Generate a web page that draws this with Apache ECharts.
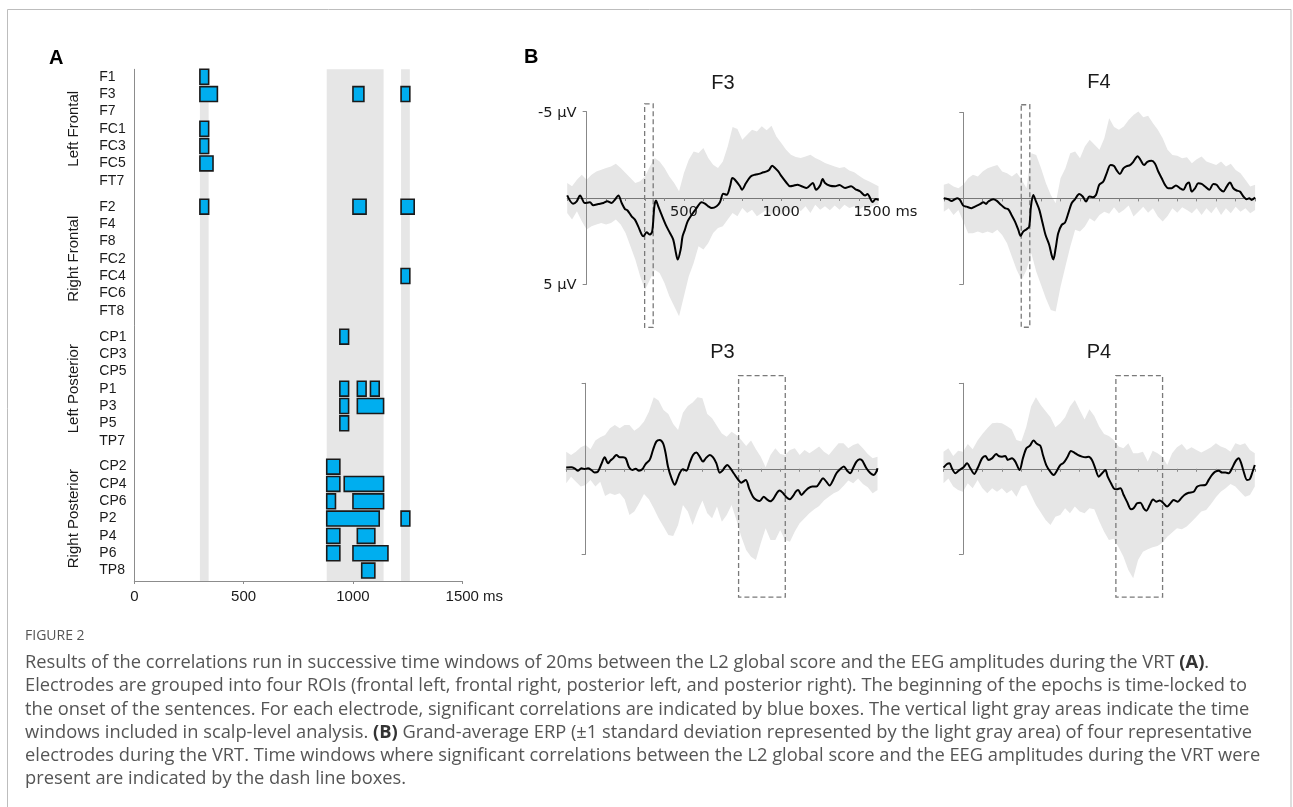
<!DOCTYPE html>
<html><head><meta charset="utf-8">
<script src="https://cdn.jsdelivr.net/npm/echarts@6/dist/echarts.min.js"></script>
<style>html,body{margin:0;padding:0;background:#fff}#c{width:1293px;height:807px}</style>
</head><body><div id="c"></div><script>
// ---------- Panel A data ----------
const electrodes = ['F1','F3','F7','FC1','FC3','FC5','FT7','F2','F4','F8','FC2','FC4','FC6','FT8','CP1','CP3','CP5','P1','P3','P5','TP7','CP2','CP4','CP6','P2','P4','P6','TP8'];
const groups = ['Left Frontal','Right Frontal','Left Posterior','Right Posterior'];
const analysisWindows = [[300,340],[880,1140],[1220,1260]];
const sigBoxes = [
 ['F1',300,340],['F3',300,380],['F3',1000,1050],['F3',1220,1260],
 ['FC1',300,340],['FC3',300,340],['FC5',300,360],
 ['F2',300,340],['F2',1000,1060],['F2',1220,1280],
 ['FC4',1220,1260],
 ['CP1',940,980],
 ['P1',940,980],['P1',1020,1060],['P1',1080,1120],
 ['P3',940,980],['P3',1020,1140],
 ['P5',940,980],
 ['CP2',880,940],
 ['CP4',880,940],['CP4',960,1140],
 ['CP6',880,920],['CP6',1000,1140],
 ['P2',880,1120],['P2',1220,1260],
 ['P4',880,940],['P4',1020,1100],
 ['P6',880,940],['P6',1000,1160],
 ['TP8',1040,1100]
];
const xTicksA = [0,500,1000,1500];

// ---------- Panel B data (µV, negative up) ----------
const bandTimes = [-100,-75,-50,-25,0,25,50,75,100,125,150,175,200,225,250,275,300,325,350,375,400,425,450,475,500,525,550,575,600,625,650,675,700,725,750,775,800,825,850,875,900,925,950,975,1000,1025,1050,1075,1100,1125,1150,1175,1200,1225,1250,1275,1300,1325,1350,1375,1400,1425,1450,1475,1500];

const f3Mean = [[-100,-0.15],[-70,0.33],[-51,0.19],[-34,-0.15],[-9,0.29],[17,0.25],[34,0.42],[60,0.35],[86,0.29],[106,0.19],[128,0.29],[145,0.10],[163,-0.15],[180,0.29],[197,0.64],[209,0.71],[231,1.06],[248,1.25],[265,1.64],[283,2.12],[291,2.22],[308,1.99],[325,2.12],[337,1.93],[348,0.48],[356,0.15],[368,0.48],[385,0.97],[406,1.54],[428,2.03],[445,2.41],[459,3.19],[468,3.57],[483,2.99],[493,2.22],[505,1.83],[519,1.35],[540,0.97],[565,0.58],[591,0.25],[608,0.33],[625,0.48],[643,0.58],[668,0.48],[685,0.25],[702,-0.25],[720,-0.19],[737,-0.68],[749,-1.16],[762,-1.06],[788,-0.68],[798,-0.48],[819,-0.87],[843,-1.25],[865,-1.35],[891,-1.41],[908,-1.49],[925,-1.54],[939,-1.64],[953,-1.87],[968,-1.74],[985,-1.54],[1002,-1.25],[1028,-0.87],[1045,-0.68],[1062,-0.71],[1083,-0.77],[1105,-0.68],[1131,-0.58],[1162,-0.87],[1179,-0.48],[1200,-0.73],[1213,-1.10],[1225,-0.87],[1251,-0.71],[1277,-0.68],[1299,-0.75],[1328,-0.58],[1359,-0.68],[1380,-0.52],[1405,-0.39],[1431,-0.14],[1443,-0.23],[1470,0.23],[1486,0.06],[1500,0.10]];
const f3Upper = [-0.87,-0.68,-1.06,-1.35,-1.06,-1.35,-1.54,-1.64,-1.74,-1.83,-1.99,-1.74,-1.45,-1.16,-0.87,-0.97,-1.25,-1.83,-2.32,-2.12,-1.74,-1.25,-0.87,-0.39,-1.45,-2.22,-2.70,-2.61,-2.90,-2.32,-1.93,-1.74,-2.12,-2.99,-4.11,-4.00,-3.38,-3.67,-3.96,-3.86,-4.15,-3.92,-4.19,-3.57,-3.19,-2.80,-2.51,-2.37,-2.32,-2.41,-2.51,-2.32,-2.18,-2.03,-1.93,-1.83,-1.74,-1.80,-1.60,-1.49,-1.29,-1.10,-0.97,-0.83,-0.68];
const f3Lower = [0.87,1.25,0.77,1.35,1.83,1.64,1.54,1.45,1.54,1.45,1.25,1.54,2.03,2.80,3.57,4.54,5.31,4.73,4.15,4.34,4.92,5.69,6.27,6.85,5.69,4.54,3.76,2.80,2.99,2.61,2.03,1.74,1.64,1.25,0.87,1.06,0.58,0.87,0.68,1.06,0.87,0.68,0.97,0.68,0.97,0.68,0.87,0.48,0.77,0.48,0.87,0.39,0.68,0.48,0.71,0.44,0.68,0.39,0.58,0.48,0.68,0.48,0.58,0.44,0.39];

const f4Mean = [[-100,-0.01],[-77,0.05],[-60,0.15],[-43,0.05],[-31,-0.01],[-17,0.09],[0,0.42],[17,0.48],[43,0.57],[60,0.48],[86,0.34],[103,0.22],[117,0.32],[129,0.18],[154,0.05],[171,0.13],[189,0.32],[214,0.57],[231,0.63],[248,0.96],[266,1.35],[283,1.83],[295,2.18],[308,1.93],[326,1.79],[339,1.64],[348,0.47],[360,-0.20],[374,0.18],[391,0.67],[408,1.45],[423,2.13],[442,2.71],[454,3.29],[463,3.55],[475,2.90],[488,2.03],[506,1.54],[523,1.41],[540,0.86],[557,0.28],[574,0.05],[596,-0.26],[614,-0.11],[631,0.18],[648,-0.11],[665,-0.07],[682,-0.20],[699,-0.79],[720,-0.98],[737,-1.46],[757,-1.94],[775,-1.88],[788,-1.65],[805,-1.42],[823,-1.75],[840,-1.88],[857,-1.94],[874,-2.13],[896,-2.46],[912,-2.22],[929,-1.94],[946,-2.13],[968,-2.19],[985,-2.03],[1003,-1.55],[1020,-1.17],[1037,-0.79],[1054,-0.59],[1071,-0.59],[1093,-0.75],[1114,-0.59],[1131,-0.50],[1148,-0.83],[1160,-0.92],[1174,-0.40],[1191,-0.59],[1208,-0.88],[1225,-0.84],[1243,-0.69],[1265,-0.50],[1285,-0.84],[1302,-0.79],[1320,-0.53],[1337,-0.40],[1354,-0.69],[1371,-0.92],[1388,-0.59],[1405,-0.46],[1422,-0.40],[1440,-0.11],[1457,0.05],[1470,-0.01],[1482,0.09],[1500,-0.05]];
const f4Upper = [-0.79,-0.88,-0.69,-0.59,-0.79,-1.17,-1.37,-1.27,-1.56,-1.76,-1.85,-1.95,-1.56,-1.47,-1.27,-1.50,-1.08,-0.59,-2.63,-2.53,-1.76,-0.88,-0.20,0.28,-1.17,-1.76,-2.63,-2.73,-2.34,-3.02,-3.41,-3.12,-2.83,-3.50,-4.67,-4.15,-3.99,-4.19,-4.57,-4.86,-5.06,-4.73,-4.81,-4.38,-3.99,-3.50,-2.83,-2.53,-2.48,-2.34,-2.40,-2.05,-2.28,-2.44,-2.15,-2.05,-1.95,-2.15,-1.85,-2.01,-1.66,-1.47,-1.08,-0.69,-0.79];
const f4Lower = [0.77,0.57,0.96,0.67,1.35,2.03,2.03,1.93,2.03,1.93,2.03,1.83,2.13,2.61,3.39,4.17,4.75,4.17,3.19,4.26,5.04,5.82,6.50,6.59,5.14,3.97,2.81,1.83,1.93,1.64,1.16,1.35,0.96,0.77,0.90,0.51,0.86,0.67,0.42,1.06,0.77,0.48,0.83,0.57,1.06,1.35,1.02,0.57,0.83,0.51,0.67,0.86,0.57,0.96,0.57,0.86,0.48,0.96,0.57,0.86,0.48,0.77,0.57,0.86,0.67];

const p3Mean = [[-100,-0.07],[-74,-0.09],[-57,-0.03],[-39,0.11],[-22,-0.03],[-5,0.01],[12,-0.03],[29,0.07],[46,0.22],[63,0.17],[81,-0.28],[98,-0.67],[115,-0.32],[127,-0.48],[141,-0.61],[158,-0.81],[175,-0.67],[192,-0.67],[206,-0.61],[223,-0.09],[240,0.07],[257,-0.01],[274,0.11],[291,0.03],[308,-0.28],[329,-0.52],[346,-1.10],[363,-1.59],[380,-1.69],[398,-1.49],[411,-0.91],[423,-0.13],[441,0.55],[458,0.94],[470,0.65],[483,0.26],[500,0.03],[518,0.11],[535,-0.36],[552,-0.81],[569,-0.95],[586,-0.71],[603,-0.42],[617,-0.61],[638,-0.81],[655,-0.67],[672,-0.32],[689,0.23],[703,0.11],[715,-0.09],[728,-0.22],[744,-0.03],[761,0.26],[778,0.55],[800,0.81],[823,0.65],[840,1.14],[860,1.63],[877,1.82],[895,1.88],[915,1.63],[932,1.79],[949,1.90],[967,1.72],[984,1.39],[997,1.27],[1015,1.43],[1032,1.66],[1049,1.78],[1066,1.59],[1080,1.33],[1092,1.24],[1109,1.53],[1126,1.33],[1143,1.14],[1165,1.04],[1186,1.04],[1203,0.81],[1220,0.55],[1237,0.75],[1254,0.98],[1272,0.65],[1289,0.26],[1309,0.01],[1327,-0.13],[1344,0.11],[1361,0.26],[1374,-0.03],[1392,-0.42],[1409,-0.56],[1422,-0.48],[1443,-0.03],[1464,0.26],[1481,0.36],[1494,0.17],[1500,-0.03]];
const p3Upper = [-1.00,-0.81,-1.00,-1.26,-1.39,-1.14,-1.65,-1.84,-1.98,-2.37,-2.56,-2.37,-2.56,-2.56,-2.23,-2.43,-2.76,-3.34,-4.18,-3.99,-3.44,-3.21,-2.62,-2.27,-3.28,-3.67,-3.87,-4.18,-4.12,-3.21,-2.95,-2.50,-2.07,-1.88,-2.17,-1.98,-1.69,-1.34,-1.65,-1.14,-0.71,-0.09,-0.81,-1.20,-0.87,-0.81,-1.10,-1.20,-0.81,-1.10,-0.91,-1.10,-1.30,-1.00,-0.81,-1.16,-1.49,-1.49,-1.20,-1.39,-1.49,-1.20,-0.87,-0.61,-0.71];
const p3Lower = [0.85,0.46,0.75,1.04,0.95,0.65,1.04,0.75,1.59,1.43,1.53,1.43,1.78,2.70,2.50,2.02,1.47,1.78,2.31,2.89,3.38,3.87,3.93,3.28,2.12,2.50,3.28,2.50,1.86,2.60,2.89,2.21,3.09,2.70,2.12,2.99,3.97,4.75,5.14,5.33,4.36,3.48,4.16,4.16,3.58,4.16,4.26,3.67,3.19,2.89,2.60,2.37,2.17,1.86,1.63,1.43,1.30,1.00,0.69,0.85,0.56,0.89,1.08,1.43,1.24];

const p4Mean = [[-100,-0.07],[-82,-0.28],[-69,-0.32],[-57,-0.03],[-39,0.26],[-22,0.11],[3,-0.09],[21,-0.32],[38,-0.03],[58,0.30],[75,-0.03],[98,-0.61],[115,-0.75],[132,-0.52],[149,-0.61],[171,-0.87],[183,-0.75],[201,-0.71],[218,-0.75],[230,-0.52],[252,-0.61],[269,-0.42],[291,0.07],[308,-0.61],[326,-1.20],[343,-1.34],[363,-1.65],[380,-1.46],[398,-1.34],[411,-0.81],[428,-0.22],[449,0.17],[466,0.36],[483,0.11],[500,-0.22],[518,-0.36],[538,-0.71],[555,-1.04],[572,-0.95],[590,-0.81],[612,-0.71],[629,-0.67],[646,-0.71],[663,-0.52],[680,-0.03],[698,0.46],[715,0.26],[732,0.07],[744,0.46],[761,0.85],[775,1.14],[788,1.20],[809,1.14],[826,1.53],[843,1.92],[864,2.37],[877,2.31],[895,2.02],[912,1.98],[929,2.31],[943,2.45],[960,2.12],[977,1.79],[994,1.92],[1011,1.86],[1028,1.98],[1049,2.21],[1066,2.02],[1083,1.83],[1104,1.92],[1121,1.73],[1138,1.53],[1160,1.40],[1186,1.34],[1203,1.05],[1220,0.97],[1246,0.95],[1263,0.65],[1280,0.36],[1297,0.17],[1315,0.11],[1332,0.22],[1349,0.22],[1366,0.26],[1383,-0.03],[1400,-0.42],[1417,-0.61],[1429,-0.36],[1443,0.17],[1460,0.65],[1474,0.61],[1486,0.26],[1500,-0.22]];
const p4Upper = [-1.00,-1.20,-0.75,-1.06,-1.00,-1.45,-1.14,-1.65,-2.04,-2.37,-2.66,-2.70,-2.66,-2.50,-2.31,-1.69,-1.59,-2.43,-3.64,-4.18,-3.73,-3.36,-3.01,-2.43,-2.66,-3.01,-3.64,-4.03,-3.44,-2.89,-3.48,-3.09,-2.47,-2.04,-1.92,-1.69,-1.30,-1.20,-1.49,-0.91,-0.91,-1.00,-0.42,-1.06,-0.91,-0.71,-0.22,-0.91,-1.26,-1.45,-1.10,-1.26,-1.10,-0.95,-1.10,-1.26,-1.49,-1.30,-1.20,-1.00,-1.49,-1.39,-1.49,-1.10,-0.91];
const p4Lower = [0.85,0.56,1.04,1.24,1.34,0.85,1.14,0.65,1.14,1.43,1.14,1.34,1.14,1.43,1.24,1.63,1.04,0.95,1.53,2.12,2.56,2.99,3.28,2.80,2.70,2.31,2.60,2.21,2.50,2.60,2.31,2.37,3.05,3.67,4.16,4.09,4.59,5.14,5.92,6.40,5.33,4.85,4.71,4.59,4.51,4.32,3.97,3.73,3.48,3.54,3.38,3.09,2.80,2.50,2.41,2.06,1.67,1.34,1.14,0.89,1.04,1.34,1.63,1.53,1.04];

const sigWindowF = [298, 342];     // ms, dashed box (frontal)
const sigWindowP = [786, 1026];    // ms, dashed box (posterior)
const boxRangeUV = [-5.45, 7.5];   // µV extent of dashed boxes
const erpTicks = [500, 1000, 1500];
const uvTicks = [-5, 5];

// ---------- layout ----------
const plots = [
 {name:'F3', mean:f3Mean, upper:f3Upper, lower:f3Lower, win:sigWindowF, labels:true,  grid:{left:567.2, top:111.7, width:311.3, height:172.6}, title:[723, 83.5]},
 {name:'F4', mean:f4Mean, upper:f4Upper, lower:f4Lower, win:sigWindowF, labels:false, grid:{left:943.8, top:112.5, width:311.3, height:171.8}, title:[1099, 82]},
 {name:'P3', mean:p3Mean, upper:p3Upper, lower:p3Lower, win:sigWindowP, labels:false, grid:{left:566.2, top:383.3, width:311.3, height:171}, title:[722.5, 352]},
 {name:'P4', mean:p4Mean, upper:p4Upper, lower:p4Lower, win:sigWindowP, labels:false, grid:{left:943.5, top:383.3, width:311.3, height:171}, title:[1099, 352]}
];

const rowPos = name => { const i = electrodes.indexOf(name); return i + 0.5 * Math.floor(i / 7); };
const rowPositions = electrodes.map(rowPos);
const groupCenters = groups.map((g, k) => k * 7.5 + 3);
const BLUE = '#00aeef', AXIS = '#8c8c8c', SANS = 'Liberation Sans, Arial, sans-serif', DEJA = '"DejaVu Sans", sans-serif';

const chart = echarts.init(document.getElementById('c'));

const xAxes = [{
  gridIndex:0, type:'value', min:0, max:1500, interval:500,
  axisLine:{onZero:false, lineStyle:{color:AXIS, width:1}},
  axisTick:{show:true, length:3, lineStyle:{color:AXIS}},
  splitLine:{show:false},
  axisLabel:{customValues:xTicksA, margin:8, fontSize:15, fontFamily:SANS, color:'#1a1a1a',
    formatter: v => v === 1500 ? '{pad|\u00a0}1500 ms' : String(v), rich:{pad:{width:24}}}
}];
const yAxes = [{
  gridIndex:0, type:'value', inverse:true, min:-0.43, max:29.1,
  axisLine:{show:true, onZero:false, lineStyle:{color:AXIS, width:1}},
  axisTick:{show:false}, splitLine:{show:false},
  axisLabel:{customValues:rowPositions, align:'left', margin:35, fontSize:14, fontFamily:SANS, color:'#1a1a1a',
    formatter: v => { const k = rowPositions.findIndex(p => Math.abs(p - v) < 0.01); return k >= 0 ? electrodes[k] : ''; }}
}];
const series = [
  {type:'custom', xAxisIndex:0, yAxisIndex:0, z:1, silent:true, data:analysisWindows, encode:{x:[0,1]},
   renderItem:(params, api) => {
     const x0 = api.coord([api.value(0), 0])[0], x1 = api.coord([api.value(1), 0])[0];
     const cs = params.coordSys;
     return {type:'rect', shape:{x:x0, y:cs.y, width:x1 - x0, height:cs.height}, style:{fill:'#e6e6e6'}};
   }},
  {type:'custom', xAxisIndex:0, yAxisIndex:0, z:3, silent:true,
   data: sigBoxes.map(b => [b[1], b[2], rowPos(b[0])]), encode:{x:[0,1], y:2},
   renderItem:(params, api) => {
     const a = api.coord([api.value(0), api.value(2)]);
     const b = api.coord([api.value(1), api.value(2)]);
     const h = api.size([0, 0.86])[1];
     return {type:'rect', shape:{x:a[0], y:a[1] - h / 2, width:b[0] - a[0], height:h},
       style:{fill:BLUE, stroke:'#1a1a1a', lineWidth:1.6}};
   }}
];

plots.forEach((p, k) => {
  const gi = k + 1;
  xAxes.push({
    gridIndex:gi, type:'value', min:-100, max:1500, interval:100, z:3,
    axisLine:{onZero:true, lineStyle:{color:'#777', width:1}},
    axisTick:{show:true, length:3, lineStyle:{color:'#888'}},
    splitLine:{show:false}, axisLabel:{show:false}
  });
  yAxes.push({
    gridIndex:gi, type:'value', inverse:true, min:-5, max:5, z:3,
    axisLine:{show:true, onZero:true, lineStyle:{color:'#888', width:1}},
    axisTick:{show:true, customValues:uvTicks, length:4, lineStyle:{color:'#888'}},
    splitLine:{show:false}, axisLabel:{show:false}
  });
  series.push({
    type:'custom', xAxisIndex:gi, yAxisIndex:gi, z:1, silent:true, clip:false, data:[[0,0]],
    renderItem:(params, api) => {
      const pts = [];
      for (let i = 0; i < bandTimes.length; i++) pts.push(api.coord([bandTimes[i], p.upper[i]]));
      for (let i = bandTimes.length - 1; i >= 0; i--) pts.push(api.coord([bandTimes[i], p.lower[i]]));
      return {type:'polygon', shape:{points:pts}, style:{fill:'#e6e6e6'}};
    }
  });
  series.push({
    type:'custom', xAxisIndex:gi, yAxisIndex:gi, z:2, silent:true, clip:false,
    data:[[p.win[0], p.win[1], boxRangeUV[0], boxRangeUV[1]]], encode:{x:[0,1], y:[2,3]},
    renderItem:(params, api) => {
      const a = api.coord([api.value(0), api.value(2)]);
      const b = api.coord([api.value(1), api.value(3)]);
      return {type:'rect', shape:{x:a[0], y:a[1], width:b[0] - a[0], height:b[1] - a[1]},
        style:{fill:'none', stroke:'#7a7a7a', lineWidth:1.3, lineDash:[5,3]}};
    }
  });
  series.push({
    type:'line', xAxisIndex:gi, yAxisIndex:gi, z:4, silent:true, data:p.mean, showSymbol:false,
    smooth:0.3, clip:false, lineStyle:{color:'#000', width:2}
  });
});

chart.setOption({
  backgroundColor:'#fff', animation:false,
  grid:[{left:134.3, top:69.3, width:328, height:511.7}, ...plots.map(p => p.grid)],
  xAxis:xAxes, yAxis:yAxes, series:series
});

// ---------- text overlays ----------
const gfx = [
  {type:'rect', z:10, shape:{x:7.5, y:9.5, width:1283.5, height:850}, style:{fill:'none', stroke:'#bdbdbd', lineWidth:1}, silent:true},
  {type:'text', z:10, x:49, y:58, style:{text:'A', font:'bold 20px ' + SANS, fill:'#000', verticalAlign:'middle'}},
  {type:'text', z:10, x:524, y:57, style:{text:'B', font:'bold 20px ' + SANS, fill:'#000', verticalAlign:'middle'}}
];
groups.forEach((g, k) => {
  const cy = chart.convertToPixel({gridIndex:0}, [0, groupCenters[k]])[1];
  gfx.push({type:'text', z:10, x:74, y:cy, rotation:Math.PI / 2,
    style:{text:g, x:0, y:0, align:'center', verticalAlign:'middle', font:'15px ' + SANS, fill:'#1a1a1a'}});
});
plots.forEach((p, k) => {
  gfx.push({type:'text', z:10, x:p.title[0], y:p.title[1],
    style:{text:p.name, align:'center', verticalAlign:'middle', font:'20px ' + SANS, fill:'#1a1a1a'}});
  if (p.labels) {
    // time labels hang under the zero line (above the band, under the trace)
    erpTicks.forEach(t => {
      const pt = chart.convertToPixel({gridIndex:k + 1}, [t, 0]);
      gfx.push({type:'text', z:3, x:pt[0] + (t === 1500 ? 7 : 0), y:pt[1] + 7,
        style:{text: t === 1500 ? '1500 ms' : String(t), align:'center', verticalAlign:'top',
          font:'14.7px ' + DEJA, fill:'#1a1a1a'}});
    });
    uvTicks.forEach(v => {
      const pt = chart.convertToPixel({gridIndex:k + 1}, [0, v]);
      gfx.push({type:'text', z:10, x:pt[0] - 10, y:pt[1] + 1,
        style:{text:(v < 0 ? '-5' : '5') + ' µV', align:'right', verticalAlign:'middle',
          font:'14.7px ' + DEJA, fill:'#1a1a1a'}});
    });
  }
});
const capFont = '18.3px "Open Sans", sans-serif';
const capLines = [
  'Results of the correlations run in successive time windows of 20ms between the L2 global score and the EEG amplitudes during the VRT {b|(A)}.',
  'Electrodes are grouped into four ROIs (frontal left, frontal right, posterior left, and posterior right). The beginning of the epochs is time-locked to',
  'the onset of the sentences. For each electrode, significant correlations are indicated by blue boxes. The vertical light gray areas indicate the time',
  'windows included in scalp-level analysis. {b|(B)} Grand-average ERP (±1 standard deviation represented by the light gray area) of four representative',
  'electrodes during the VRT. Time windows where significant correlations between the L2 global score and the EEG amplitudes during the VRT were',
  'present are indicated by the dash line boxes.'
];
gfx.push({type:'text', z:10, x:25, y:636, style:{text:'FIGURE 2', font:'14px "Open Sans", sans-serif', fill:'#555', verticalAlign:'middle'}});
capLines.forEach((t, i) => {
  gfx.push({type:'text', z:10, x:25, y:663 + i * 23.2,
    style:{text:t, font:capFont, fill:'#555', verticalAlign:'middle',
      rich:{b:{fontWeight:'bold', fontSize:18.3, fontFamily:'Open Sans', fill:'#333', color:'#333'}}}});
});
chart.setOption({graphic:gfx});
</script></body></html>
